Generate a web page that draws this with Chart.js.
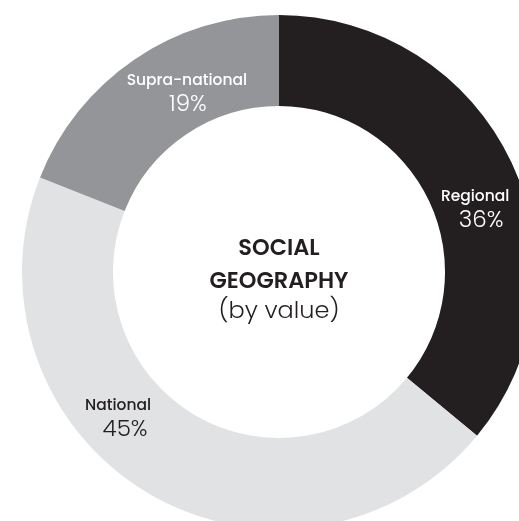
<!DOCTYPE html>
<html>
<head>
<meta charset="utf-8">
<script src="https://cdn.jsdelivr.net/npm/chart.js@4"></script>
<style>
  html, body { margin: 0; padding: 0; background: #fff; overflow: hidden; width: 519px; height: 521px; }
  #wrap { position: absolute; left: 22px; top: 15px; width: 514px; height: 514px; }
</style>
</head>
<body>
<div id="wrap"><canvas id="myChart"></canvas></div>
<script>
// social geography split, by value
var labels = ["Regional", "National", "Supra-national"];
var shares = [36, 45, 19];
var sliceColors = ["#231f20", "#e1e2e3", "#939598"];
var labelColors = ["#ffffff", "#231f20", "#ffffff"];
// where each label sits: along the slice (0..1) and across the ring (0 = hole edge, 1 = outer edge)
var labelAlong = [0.551, 0.61, 0.608];
var labelAcross = [0.45, 0.54, 0.42];
var pctShift = [6, 7, 1];
var centerLines = ["SOCIAL", "GEOGRAPHY", "(by value)"];

var FONT = "Poppins, Lato, 'Open Sans', sans-serif";

// draws the name + percent inside each slice, and the title in the hole
var sliceLabels = {
  id: "sliceLabels",
  afterDraw: function(chart) {
    var ctx = chart.ctx;
    var meta = chart.getDatasetMeta(0);
    ctx.save();
    ctx.textAlign = "center";
    meta.data.forEach(function(arc, i) {
      var p = arc.getProps(["x", "y", "startAngle", "endAngle", "innerRadius", "outerRadius"], true);
      var a = p.startAngle + labelAlong[i] * (p.endAngle - p.startAngle);
      var r = p.innerRadius + labelAcross[i] * (p.outerRadius - p.innerRadius);
      var x = p.x + Math.cos(a) * r;
      var y = p.y + Math.sin(a) * r;
      ctx.fillStyle = labelColors[i];
      ctx.font = "500 15.5px " + FONT;
      ctx.fillText(labels[i], x, y - 5);
      ctx.font = "300 23px " + FONT;
      ctx.fillText(shares[i] + "%", x + pctShift[i], y + 21);
    });
    var c = meta.data[0];
    ctx.fillStyle = "#231f20";
    ctx.font = "600 22.5px " + FONT;
    ctx.fillText(centerLines[0], c.x, c.y - 17);
    ctx.fillText(centerLines[1], c.x, c.y + 16);
    ctx.font = "300 24px " + FONT;
    ctx.fillText(centerLines[2], c.x, c.y + 46);
    ctx.restore();
  }
};

new Chart("myChart", {
  type: "doughnut",
  data: {
    labels: labels,
    datasets: [{
      data: shares,
      backgroundColor: sliceColors,
      borderWidth: 0
    }]
  },
  options: {
    responsive: true,
    maintainAspectRatio: false,
    animation: false,
    cutout: "64.6%",
    layout: { padding: 0 },
    plugins: {
      legend: { display: false },
      tooltip: { enabled: false }
    }
  },
  plugins: [sliceLabels]
});
</script>
</body>
</html>
